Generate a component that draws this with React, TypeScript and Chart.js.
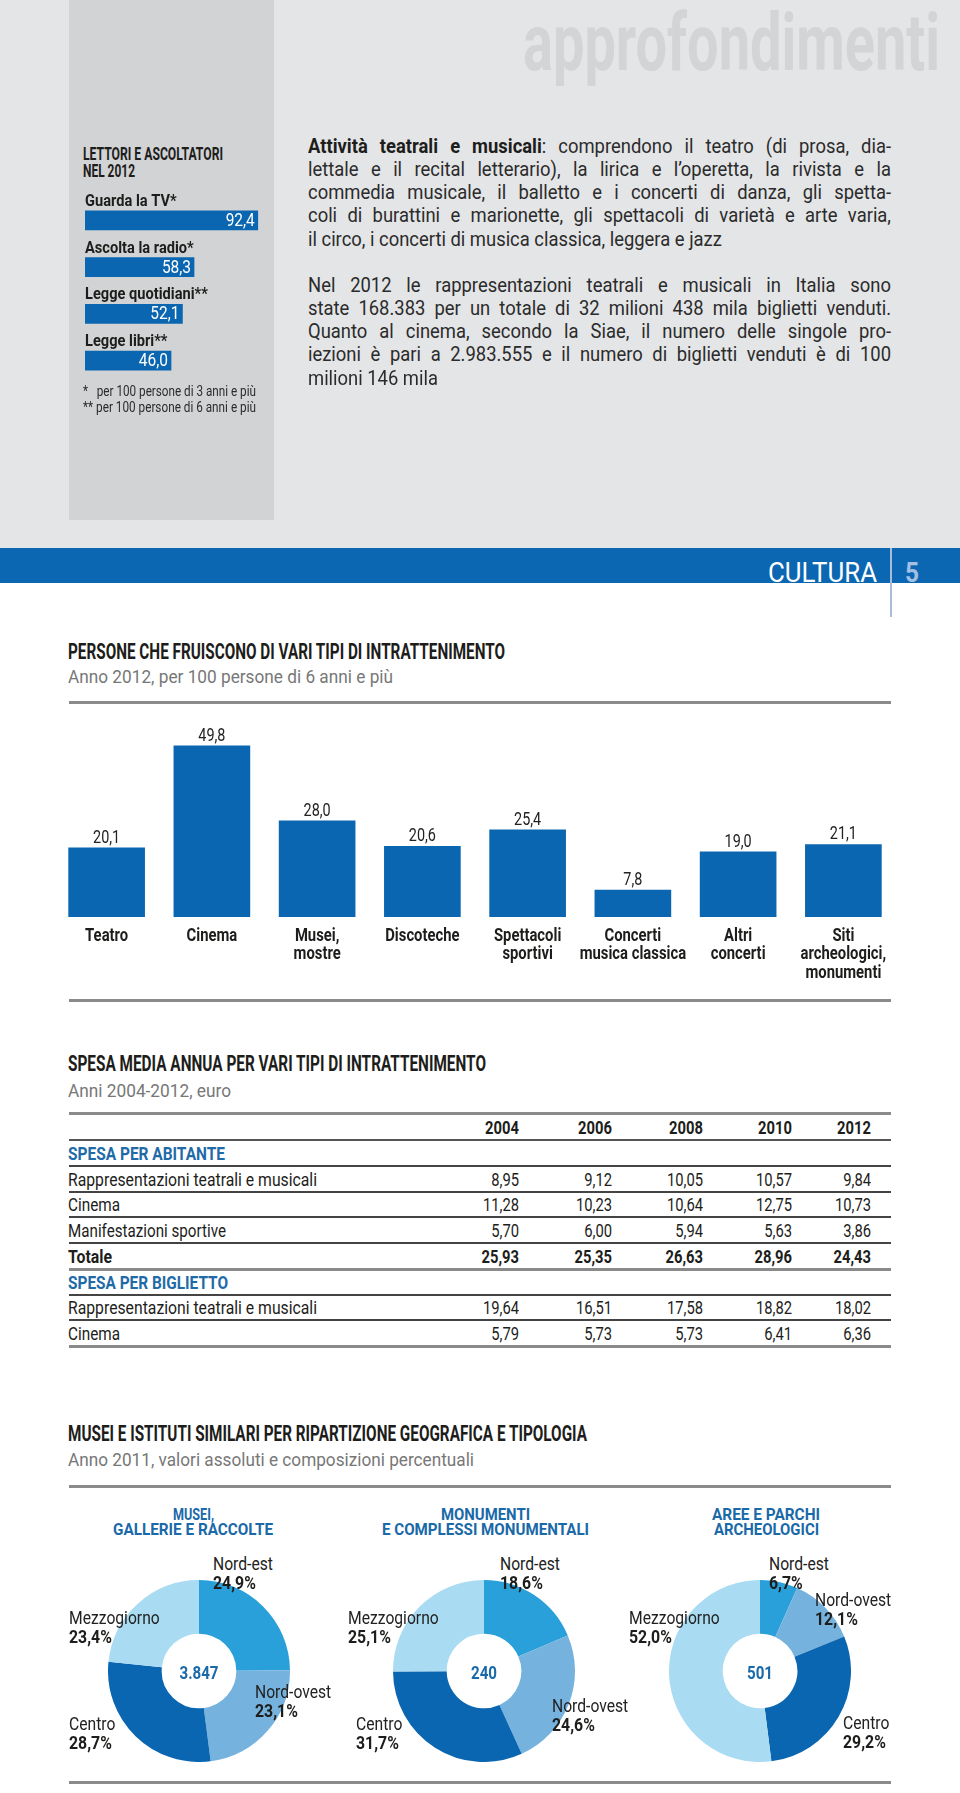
import React, { useEffect, useLayoutEffect, useRef } from 'react';
import { Chart, registerables } from 'chart.js';

Chart.register(...registerables);

const COND = 'Roboto, "Noto Sans", "DejaVu Sans", sans-serif';
const BODY = 'Roboto, "Noto Sans", "DejaVu Sans", sans-serif';
const BLUE = '#0b66b1';
const INK = '#1d1d1b';

// ---------- data: sidebar ----------
const readerLabels = ['Guarda la TV*', 'Ascolta la radio*', 'Legge quotidiani**', 'Legge libri**'];
const readerValues = [92.4, 58.3, 52.1, 46.0];

// ---------- data: entertainment ----------
const entCategories = [
  ['Teatro'],
  ['Cinema'],
  ['Musei,', 'mostre'],
  ['Discoteche'],
  ['Spettacoli', 'sportivi'],
  ['Concerti', 'musica classica'],
  ['Altri', 'concerti'],
  ['Siti', 'archeologici,', 'monumenti'],
];
const entValues = [20.1, 49.8, 28.0, 20.6, 25.4, 7.8, 19.0, 21.1];

// ---------- data: table ----------
const years = ['2004', '2006', '2008', '2010', '2012'];
const perCapitaTheatre = [8.95, 9.12, 10.05, 10.57, 9.84];
const perCapitaCinema = [11.28, 10.23, 10.64, 12.75, 10.73];
const perCapitaSport = [5.7, 6.0, 5.94, 5.63, 3.86];
const perCapitaTotal = [25.93, 25.35, 26.63, 28.96, 24.43];
const perTicketTheatre = [19.64, 16.51, 17.58, 18.82, 18.02];
const perTicketCinema = [5.79, 5.73, 5.73, 6.41, 6.36];

// ---------- data: donuts ----------
const regions = ['Nord-est', 'Nord-ovest', 'Centro', 'Mezzogiorno'];
const museumShares = [24.9, 23.1, 28.7, 23.4];
const monumentShares = [18.6, 24.6, 31.7, 25.1];
const archaeoShares = [6.7, 12.1, 29.2, 52.0];
const donutTotals = ['3.847', '240', '501'];
const donutTitles = [
  ['MUSEI,', 'GALLERIE E RACCOLTE'],
  ['MONUMENTI', 'E COMPLESSI MONUMENTALI'],
  ['AREE E PARCHI', 'ARCHEOLOGICI'],
];
const regionColors = ['#29a0d9', '#76b2de', '#0b66b1', '#a9dbf2'];

// ---------- layout (positions only) ----------
const DONUT_CX = [198.5, 484, 760];
const DONUT_CY = 1671;
const DONUT_R = 91;
const TITLE_W = [[41, 160], [89, 207], [108, 105]];
const TITLE_CX = [193, 485, 766];
const LABEL_POS = [
  [[213, 1563], [255, 1691], [69, 1723], [69, 1617]],
  [[500, 1563], [552, 1705], [356, 1723], [348, 1617]],
  [[769, 1563], [815, 1599], [843, 1722], [629, 1617]],
];
const COL_RIGHT = [519, 612, 703, 792, 871];

const fmt = (v: number, d: number) => v.toFixed(d).replace('.', ',');

function drawCond(ctx: CanvasRenderingContext2D, text: string, x: number, y: number, k: number, align: CanvasTextAlign) {
  ctx.save();
  ctx.translate(x, y);
  ctx.scale(k, 1);
  ctx.textAlign = align;
  ctx.fillText(text, 0, 0);
  ctx.restore();
}

function fitAll(root: HTMLElement | null) {
  if (!root) return;
  root.querySelectorAll<HTMLElement>('[data-fit]').forEach((el) => {
    const target = parseFloat(el.dataset.fit || '0');
    el.style.transform = 'none';
    const w = el.getBoundingClientRect().width;
    if (w > 0 && target > 0) el.style.transform = `scaleX(${target / w})`;
  });
  root.querySelectorAll<HTMLElement>('[data-just]').forEach((el) => {
    const target = parseFloat(el.dataset.just || '0');
    const sx = parseFloat(el.dataset.jsx || '1');
    el.style.transform = 'none';
    el.style.wordSpacing = '0px';
    const w = el.getBoundingClientRect().width;
    const spaces = (el.textContent || '').split(' ').length - 1;
    const t = target / sx;
    if (w > t) {
      el.style.transform = `scaleX(${target / w})`;
    } else {
      if (spaces > 0) el.style.wordSpacing = `${(t - w) / spaces}px`;
      el.style.transform = `scaleX(${sx})`;
    }
  });
}

type TProps = {
  x: number;
  cy: number;
  size: number;
  lh?: number;
  bold?: boolean;
  color?: string;
  font?: string;
  fit?: number;
  just?: number;
  jsx?: number;
  sx?: number;
  origin?: string;
  children?: React.ReactNode;
  style?: React.CSSProperties;
};

function T({ x, cy, size, lh, bold, color = INK, font = COND, fit, just, jsx, sx, origin = 'left center', children, style }: TProps) {
  const L = lh ?? Math.round(size * 1.2);
  return (
    <div
      data-fit={fit}
      data-just={just}
      data-jsx={jsx}
      style={{
        position: 'absolute',
        left: x,
        top: cy - L / 2,
        height: L,
        lineHeight: L + 'px',
        fontSize: size,
        fontWeight: bold ? 700 : 400,
        color,
        fontFamily: font,
        whiteSpace: 'pre',
        transformOrigin: origin,
        transform: sx ? `scaleX(${sx})` : undefined,
        ...style,
      }}
    >
      {children}
    </div>
  );
}

function ReadersChart() {
  const ref = useRef<HTMLCanvasElement>(null);
  useEffect(() => {
    const labelPlugin = {
      id: 'readerLabels',
      afterDatasetsDraw(chart: any) {
        const ctx = chart.ctx;
        const meta = chart.getDatasetMeta(0);
        meta.data.forEach((bar: any, i: number) => {
          const top = bar.y - bar.height / 2;
          ctx.save();
          ctx.font = `bold 17px ${COND}`;
          ctx.fillStyle = INK;
          ctx.textBaseline = 'alphabetic';
          drawCond(ctx, readerLabels[i], chart.chartArea.left, top - 5, 0.86, 'left');
          ctx.font = `18px ${COND}`;
          ctx.fillStyle = '#ffffff';
          ctx.textBaseline = 'middle';
          drawCond(ctx, fmt(readerValues[i], 1), bar.x - 3, bar.y + 1, 0.86, 'right');
          ctx.restore();
        });
      },
    };
    const chart = new Chart(ref.current as HTMLCanvasElement, {
      type: 'bar',
      data: {
        labels: readerLabels,
        datasets: [{ data: readerValues, backgroundColor: BLUE, barThickness: 19, borderWidth: 0 }],
      },
      options: {
        indexAxis: 'y',
        animation: false,
        responsive: false,
        maintainAspectRatio: false,
        layout: { padding: { top: 17, left: 0, right: 0, bottom: 0 } },
        plugins: { legend: { display: false }, tooltip: { enabled: false } },
        scales: { x: { display: false, min: 0, max: 100 }, y: { display: false } },
      },
      plugins: [labelPlugin],
    } as any);
    return () => chart.destroy();
  }, []);
  return (
    <canvas
      ref={ref}
      width={187}
      height={204}
      style={{ position: 'absolute', left: 85, top: 180, width: 187, height: 204 }}
    />
  );
}

function EntertainmentChart() {
  const ref = useRef<HTMLCanvasElement>(null);
  useEffect(() => {
    const labelsPlugin = {
      id: 'entLabels',
      afterDatasetsDraw(chart: any) {
        const ctx = chart.ctx;
        const meta = chart.getDatasetMeta(0);
        const xs = chart.scales.x;
        ctx.save();
        ctx.font = `18px ${COND}`;
        ctx.fillStyle = '#222';
        ctx.textBaseline = 'alphabetic';
        meta.data.forEach((bar: any, i: number) => {
          drawCond(ctx, fmt(entValues[i], 1), bar.x, bar.y - 5, 0.8, 'center');
        });
        ctx.font = `bold 19px ${COND}`;
        ctx.fillStyle = INK;
        ctx.textBaseline = 'middle';
        entCategories.forEach((lines, i) => {
          const px = xs.getPixelForValue(i);
          lines.forEach((s, k) => {
            drawCond(ctx, s, px, chart.chartArea.bottom + 19 + k * 18.5, 0.78, 'center');
          });
        });
        ctx.restore();
      },
    };
    const chart = new Chart(ref.current as HTMLCanvasElement, {
      type: 'bar',
      data: {
        labels: entCategories.map((l) => l.join(' ')),
        datasets: [{ data: entValues, backgroundColor: BLUE, barThickness: 76, borderWidth: 0 }],
      },
      options: {
        animation: false,
        responsive: false,
        maintainAspectRatio: false,
        layout: { padding: { top: 13, left: 0, right: 0, bottom: 80 } },
        plugins: { legend: { display: false }, tooltip: { enabled: false } },
        scales: {
          y: { display: false, min: 0, max: 55 },
          x: { display: false, offset: true, grid: { display: false } },
        },
      },
      plugins: [labelsPlugin],
    } as any);
    return () => chart.destroy();
  }, []);
  return (
    <canvas
      ref={ref}
      width={842}
      height={282}
      style={{ position: 'absolute', left: 54, top: 715, width: 842, height: 282 }}
    />
  );
}

function Donut({ values, cx }: { values: number[]; cx: number }) {
  const ref = useRef<HTMLCanvasElement>(null);
  useEffect(() => {
    const chart = new Chart(ref.current as HTMLCanvasElement, {
      type: 'doughnut',
      data: {
        labels: regions,
        datasets: [{ data: values, backgroundColor: regionColors, borderWidth: 0 }],
      },
      options: {
        animation: false,
        responsive: false,
        maintainAspectRatio: false,
        cutout: '41%',
        layout: { padding: 0 },
        plugins: { legend: { display: false }, tooltip: { enabled: false } },
      },
    } as any);
    return () => chart.destroy();
  }, [values]);
  const S = DONUT_R * 2;
  return (
    <canvas
      ref={ref}
      width={S}
      height={S}
      style={{ position: 'absolute', left: cx - DONUT_R, top: DONUT_CY - DONUT_R, width: S, height: S }}
    />
  );
}

function Rule({ y, h = 3, color = '#8a8a8a' }: { y: number; h?: number; color?: string }) {
  return <div style={{ position: 'absolute', left: 69, width: 822, top: y, height: h, background: color }} />;
}

const para1 = [
  'lettale e il recital letterario), la lirica e l’operetta, la rivista e la',
  'commedia musicale, il balletto e i concerti di danza, gli spetta-',
  'coli di burattini e marionette, gli spettacoli di varietà e arte varia,',
];
const para1Last = 'il circo, i concerti di musica classica, leggera e jazz';
const para2 = [
  'Nel 2012 le rappresentazioni teatrali e musicali in Italia sono',
  'state 168.383 per un totale di 32 milioni 438 mila biglietti venduti.',
  'Quanto al cinema, secondo la Siae, il numero delle singole pro-',
  'iezioni è pari a 2.983.555 e il numero di biglietti venduti è di 100',
];
const para2Last = 'milioni 146 mila';

type Row = { kind: 'section' | 'row' | 'total'; label: string; values?: number[]; fit: number };
const tableRows: Row[] = [
  { kind: 'section', label: 'SPESA PER ABITANTE', fit: 157 },
  { kind: 'row', label: 'Rappresentazioni teatrali e musicali', values: perCapitaTheatre, fit: 249 },
  { kind: 'row', label: 'Cinema', values: perCapitaCinema, fit: 52 },
  { kind: 'row', label: 'Manifestazioni sportive', values: perCapitaSport, fit: 158 },
  { kind: 'total', label: 'Totale', values: perCapitaTotal, fit: 44 },
  { kind: 'section', label: 'SPESA PER BIGLIETTO', fit: 160 },
  { kind: 'row', label: 'Rappresentazioni teatrali e musicali', values: perTicketTheatre, fit: 249 },
  { kind: 'row', label: 'Cinema', values: perTicketCinema, fit: 52 },
];

export default function App() {
  const rootRef = useRef<HTMLDivElement>(null);
  useLayoutEffect(() => {
    fitAll(rootRef.current);
    const fonts: any = (document as any).fonts;
    if (fonts && fonts.ready) fonts.ready.then(() => fitAll(rootRef.current));
  }, []);

  const BODY_W = 583;
  const p1y = 146;
  const p2y = 285;
  const LH = 23.15;
  const BS = 20;
  const BSX = 0.92;

  return (
    <div
      ref={rootRef}
      style={{
        position: 'absolute',
        left: 0,
        top: 0,
        width: 960,
        height: 1793,
        background: '#ffffff',
        overflow: 'hidden',
        fontFamily: COND,
      }}
    >
      {/* top band */}
      <div style={{ position: 'absolute', left: 0, top: 0, width: 960, height: 548, background: '#e4e5e7' }} />
      <div style={{ position: 'absolute', left: 69, top: 0, width: 205, height: 520, background: '#d2d3d5' }} />
      <T x={523} cy={43} size={80} lh={80} bold color="#d3d4d6" fit={417}>approfondimenti</T>

      {/* sidebar */}
      <T x={83} cy={153} size={18} lh={17} bold fit={140}>LETTORI E ASCOLTATORI</T>
      <T x={83} cy={170} size={18} lh={17} bold fit={52}>NEL 2012</T>
      <ReadersChart />
      <T x={83} cy={391} size={14} lh={15} color="#2b2b2b" fit={173}>{'*   per 100 persone di 3 anni e più'}</T>
      <T x={83} cy={407} size={14} lh={15} color="#2b2b2b" fit={173}>{'** per 100 persone di 6 anni e più'}</T>

      {/* body text */}
      <T x={308} cy={p1y} size={BS} lh={22} font={BODY} color="#2b2b2b" just={BODY_W} jsx={BSX}>
        <b style={{ fontWeight: 700, color: INK }}>Attività teatrali e musicali</b>
        {': comprendono il teatro (di prosa, dia-'}
      </T>
      {para1.map((s, i) => (
        <T key={'p1' + i} x={308} cy={p1y + LH * (i + 1)} size={BS} lh={22} font={BODY} color="#2b2b2b" just={BODY_W} jsx={BSX}>
          {s}
        </T>
      ))}
      <T x={308} cy={p1y + LH * 4} size={BS} lh={22} font={BODY} color="#2b2b2b" sx={BSX}>{para1Last}</T>
      {para2.map((s, i) => (
        <T key={'p2' + i} x={308} cy={p2y + LH * i} size={BS} lh={22} font={BODY} color="#2b2b2b" just={BODY_W} jsx={BSX}>
          {s}
        </T>
      ))}
      <T x={308} cy={p2y + LH * 4} size={BS} lh={22} font={BODY} color="#2b2b2b" sx={BSX}>{para2Last}</T>

      {/* blue band */}
      <div style={{ position: 'absolute', left: 0, top: 548, width: 960, height: 35, background: '#0b67b1' }} />
      <div style={{ position: 'absolute', left: 890, top: 548, width: 2, height: 69, background: '#a9bcd9' }} />
      <T x={768} cy={573} size={28} lh={28} color="#ffffff" fit={109}>CULTURA</T>
      <T x={905} cy={573} size={28} lh={28} bold color="#a3bfe3" fit={14}>5</T>

      {/* section 1 */}
      <T x={68} cy={651} size={22.5} lh={24} bold fit={437}>PERSONE CHE FRUISCONO DI VARI TIPI DI INTRATTENIMENTO</T>
      <T x={68} cy={677} size={19} lh={22} color="#777777" fit={325}>Anno 2012, per 100 persone di 6 anni e più</T>
      <Rule y={701} />
      <EntertainmentChart />
      <Rule y={999} />

      {/* section 2: table */}
      <T x={68} cy={1063} size={22.5} lh={24} bold fit={418}>SPESA MEDIA ANNUA PER VARI TIPI DI INTRATTENIMENTO</T>
      <T x={68} cy={1091} size={19} lh={22} color="#777777" fit={163}>Anni 2004-2012, euro</T>
      <Rule y={1112} />
      {years.map((yr, j) => (
        <T
          key={'yr' + yr}
          x={COL_RIGHT[j] - 80}
          cy={1128}
          size={18}
          lh={20}
          bold
          sx={0.82}
          origin="right center"
          style={{ width: 80, textAlign: 'right' }}
        >
          {yr}
        </T>
      ))}
      <Rule y={1139} h={2} color="#555555" />
      {tableRows.map((r, i) => {
        const cy = 1154 + i * 25.7;
        const lineY = cy + 11;
        const isSection = r.kind === 'section';
        const isTotal = r.kind === 'total';
        const last = i === tableRows.length - 1;
        return (
          <React.Fragment key={'row' + i}>
            <T x={68} cy={cy} size={18.5} lh={20} bold={isSection || isTotal} color={isSection ? '#1f6ba8' : INK} fit={r.fit}>
              {r.label}
            </T>
            {r.values &&
              r.values.map((v, j) => (
                <T
                  key={'c' + j}
                  x={COL_RIGHT[j] - 80}
                  cy={cy}
                  size={18}
                  lh={20}
                  bold={isTotal}
                  sx={0.82}
                  origin="right center"
                  style={{ width: 80, textAlign: 'right' }}
                >
                  {fmt(v, 2)}
                </T>
              ))}
            <Rule y={lineY} h={isTotal || last ? 3 : 2} color={isTotal || last ? '#8a8a8a' : '#444444'} />
          </React.Fragment>
        );
      })}

      {/* section 3: donuts */}
      <T x={68} cy={1433} size={22.5} lh={24} bold fit={519}>MUSEI E ISTITUTI SIMILARI PER RIPARTIZIONE GEOGRAFICA E TIPOLOGIA</T>
      <T x={68} cy={1460} size={19} lh={22} color="#777777" fit={406}>Anno 2011, valori assoluti e composizioni percentuali</T>
      <Rule y={1485} />
      {[museumShares, monumentShares, archaeoShares].map((vals, d) => (
        <React.Fragment key={'d' + d}>
          {donutTitles[d].map((line, k) => (
            <T
              key={'t' + k}
              x={TITLE_CX[d] - TITLE_W[d][k] / 2}
              cy={1514 + k * 15}
              size={17}
              lh={16}
              bold
              color="#1a69a8"
              fit={TITLE_W[d][k]}
            >
              {line}
            </T>
          ))}
          <Donut values={vals} cx={DONUT_CX[d]} />
          <T
            x={DONUT_CX[d] - 50}
            cy={DONUT_CY + 2}
            size={18}
            lh={22}
            bold
            color="#1a69a8"
            sx={0.84}
            origin="center center"
            style={{ width: 100, textAlign: 'center' }}
          >
            {donutTotals[d]}
          </T>
          {regions.map((name, r) => (
            <React.Fragment key={'l' + r}>
              <T x={LABEL_POS[d][r][0]} cy={LABEL_POS[d][r][1]} size={18} lh={19} color="#222" sx={0.87}>
                {name}
              </T>
              <T x={LABEL_POS[d][r][0]} cy={LABEL_POS[d][r][1] + 19} size={18} lh={19} bold color={INK} sx={0.88}>
                {fmt(vals[r], 1) + '%'}
              </T>
            </React.Fragment>
          ))}
        </React.Fragment>
      ))}
      <Rule y={1781} />
    </div>
  );
}
